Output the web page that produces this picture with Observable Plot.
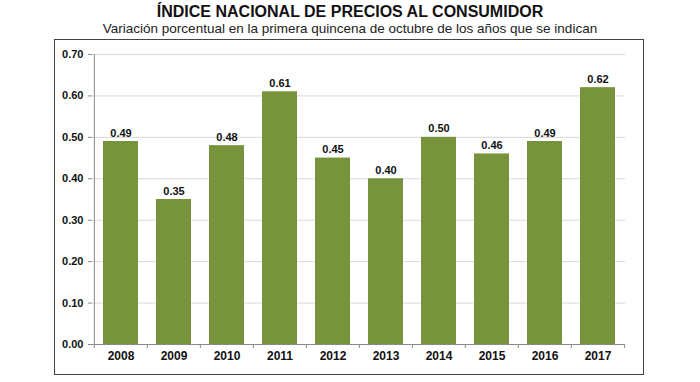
<!DOCTYPE html>
<html>
<head>
<meta charset="utf-8">
<script src="https://cdn.jsdelivr.net/npm/d3@7"></script>
<script src="https://cdn.jsdelivr.net/npm/@observablehq/plot@0.6"></script>
<style>
  html, body { margin: 0; padding: 0; background: #fff; }
  body { width: 700px; height: 382px; position: relative; overflow: hidden; font-family: "Liberation Sans", Arial, sans-serif; }
  #title { position: absolute; left: 0; width: 700px; top: 3px; text-align: center; font-weight: bold; font-size: 16px; line-height: 18px; color: #111; }
  #subtitle { position: absolute; left: 0; width: 700px; top: 21px; text-align: center; font-size: 13.5px; line-height: 15px; color: #222; }
  #box { position: absolute; left: 54px; top: 39px; width: 590px; height: 336px; box-sizing: border-box; border: 1px solid #444; }
  #chart { position: absolute; left: 0; top: 0; }
</style>
</head>
<body>
<div id="title">ÍNDICE NACIONAL DE PRECIOS AL CONSUMIDOR</div>
<div id="subtitle">Variación porcentual en la primera quincena de octubre de los años que se indican</div>
<div id="box"><div id="chart"></div></div>
<script>
const years = ["2008", "2009", "2010", "2011", "2012", "2013", "2014", "2015", "2016", "2017"];
const values = [0.49, 0.35, 0.48, 0.61, 0.45, 0.40, 0.50, 0.46, 0.49, 0.62];
const yTicks = [0, 0.1, 0.2, 0.3, 0.4, 0.5, 0.6, 0.7];

const data = years.map((y, i) => ({year: y, value: values[i]}));

const W = 588, H = 334, mL = 37, mR = 18, mT = 14, mB = 30;
const step = (W - mL - mR) / years.length;
const green = "#77933c";
const axisColor = "#8a8a8a";

const chart = Plot.plot({
  width: W,
  height: H,
  marginLeft: mL,
  marginRight: mR,
  marginTop: mT,
  marginBottom: mB,
  style: {fontFamily: "'Liberation Sans', Arial, sans-serif", background: "transparent", overflow: "visible"},
  x: {domain: years, paddingInner: 0.34, paddingOuter: 0.17, axis: null, label: null},
  y: {domain: [0, 0.7], axis: null, label: null},
  marks: [
    Plot.gridY(yTicks.filter(d => d > 0), {stroke: "#d9d9d9", strokeOpacity: 1}),
    Plot.barY(data, {x: "year", y: "value", fill: green}),
    Plot.text(data, {x: "year", y: "value", text: d => d.value.toFixed(2), lineAnchor: "bottom", dy: -5, fontSize: 11, fontWeight: "bold", fill: "#111"}),
    Plot.ruleY([0], {stroke: axisColor}),
    Plot.ruleX([years[0]], {dx: -step / 2, stroke: axisColor}),
    Plot.axisY(yTicks, {label: null, tickSize: 4, tickPadding: 5, stroke: axisColor, tickFormat: d => d.toFixed(2), fontSize: 11, fontWeight: "bold", fill: "#111"}),
    Plot.axisX(years, {label: null, tickSize: 4, dx: -step / 2, text: null, stroke: axisColor}),
    Plot.axisX([years[years.length - 1]], {label: null, tickSize: 4, dx: step / 2, text: null, stroke: axisColor}),
    Plot.axisX(years, {label: null, tickSize: 0, tickPadding: 7, fontSize: 12, fontWeight: "bold", fill: "#111"})
  ]
});
document.getElementById("chart").appendChild(chart);
</script>
</body>
</html>
